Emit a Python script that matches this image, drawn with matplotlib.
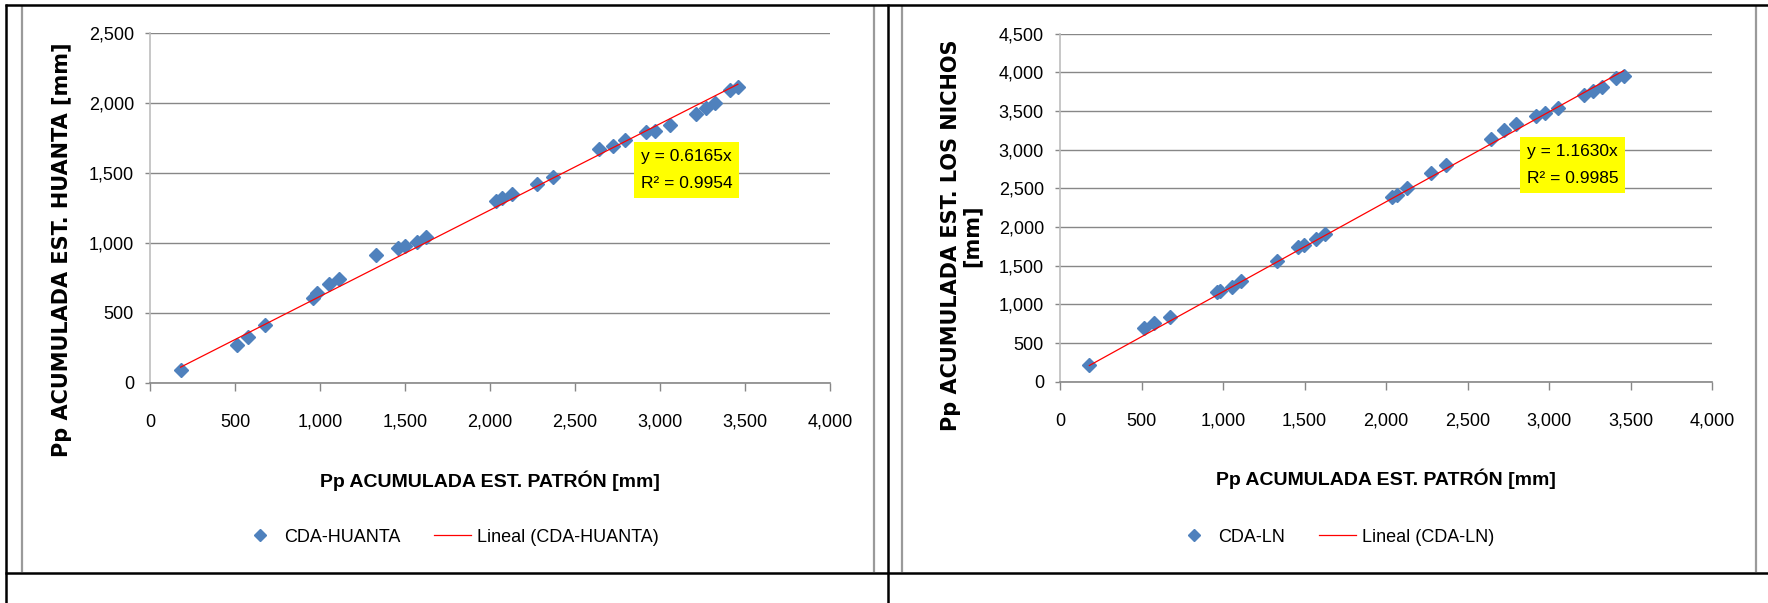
import numpy as np
from matplotlib import pyplot as plt
from matplotlib.lines import Line2D
from matplotlib.ticker import FuncFormatter, MultipleLocator

# accumulated precipitation at the reference station (x axis of both charts)
patron = [180, 513, 578, 676, 961, 984, 1053, 1110, 1332, 1460, 1498, 1568, 1625,
          2038, 2068, 2130, 2276, 2370, 2643, 2725, 2797, 2920, 2973, 3058,
          3214, 3270, 3323, 3410, 3458]
# accumulated precipitation at the two stations checked
huanta = [93, 266, 326, 414, 607, 643, 707, 738, 909, 964, 978, 1006, 1040,
          1297, 1321, 1345, 1421, 1469, 1671, 1688, 1736, 1790, 1797, 1838,
          1921, 1962, 1997, 2093, 2111]
nichos = [216, 691, 755, 841, 1156, 1177, 1229, 1303, 1561, 1738, 1768, 1840, 1905,
          2390, 2410, 2510, 2696, 2803, 3140, 3256, 3330, 3441, 3472, 3537,
          3709, 3765, 3816, 3925, 3950]

# trend line values as printed on the charts
slope_huanta, r2_huanta = 0.6165, 0.9954
slope_nichos, r2_nichos = 1.1630, 0.9985

xlabel = 'Pp ACUMULADA EST. PATRÓN [mm]'
ylabel_huanta = 'Pp ACUMULADA EST. HUANTA [mm]'
ylabel_nichos = 'Pp ACUMULADA EST. LOS NICHOS\n[mm]'

plt.rcParams['font.family'] = ['Liberation Sans', 'DejaVu Sans']

W, H = 1768, 603
blue = '#4F81BD'
grid_col = '#878787'

fig = plt.figure(figsize=(W / 100, H / 100), dpi=100)
fig.patch.set_facecolor('white')


def fline(x0, y0, x1, y1, color, lw):
    # line in pixel coords of the figure (y from the top)
    fig.add_artist(Line2D([x0 / W, x1 / W], [1 - y0 / H, 1 - y1 / H],
                          transform=fig.transFigure, color=color, lw=lw,
                          solid_capstyle='butt'))


def draw_chart(rect, y, ymax, slope, r2, name, ylabel, ylab_pos, box_pos, leg_x):
    ax = fig.add_axes([rect[0] / W, 1 - rect[1] / H, rect[2] / W, rect[3] / H])
    x = np.array(patron)
    ax.plot(x, y, 'D', color=blue, ms=7.5, mec=blue, zorder=3, label=name)
    xs = np.array([x.min(), x.max()])
    ax.plot(xs, slope * xs, color='red', lw=0.9, zorder=4, label=f'Lineal ({name})')

    ax.set_xlim(0, 4000)
    ax.set_ylim(0, ymax)
    ax.xaxis.set_major_locator(MultipleLocator(500))
    ax.yaxis.set_major_locator(MultipleLocator(500))
    fmt = FuncFormatter(lambda v, p: f'{v:,.0f}')
    ax.xaxis.set_major_formatter(fmt)
    ax.yaxis.set_major_formatter(fmt)
    ax.grid(axis='y', color=grid_col, lw=1.0)
    ax.set_axisbelow(True)
    for s in ['top', 'right']:
        ax.spines[s].set_visible(False)
    ax.spines['left'].set_color('#BEBEBE')
    ax.spines['bottom'].set_color(grid_col)
    ax.spines['left'].set_linewidth(1.2)
    ax.spines['bottom'].set_linewidth(1.2)
    ax.tick_params(axis='x', length=5.5, width=1, color=grid_col, pad=17, labelsize=13)
    ax.tick_params(axis='y', length=3.6, width=1, color=grid_col, pad=8, labelsize=13)

    ax.set_xlabel(xlabel, fontsize=14, fontweight='bold')
    ax.xaxis.set_label_coords(0.5, -0.25)
    ax.set_ylabel(ylabel, fontsize=15, fontweight='bold', family='DejaVu Sans',
                  linespacing=1.05)
    ax.yaxis.set_label_coords(*ylab_pos)

    ax.text(box_pos[0], box_pos[1], f'y = {slope:.4f}x\nR² = {r2:.4f}',
            transform=ax.transAxes, ha='center', va='center', fontsize=12.5,
            linespacing=2.0,
            bbox=dict(boxstyle='square,pad=0.4', fc='#FFFF00', ec='none'), zorder=5)

    h, l = ax.get_legend_handles_labels()
    fig.legend(h, l, loc='center', bbox_to_anchor=(leg_x, 0.109), ncol=2,
               frameon=False, fontsize=13, numpoints=1, handlelength=2.05,
               handletextpad=0.3, columnspacing=1.9, markerscale=0.8)
    return ax


draw_chart((150, 382.7, 680, 350), huanta, 2500, slope_huanta, r2_huanta,
           'CDA-HUANTA', ylabel_huanta, (-0.115, 0.38), (0.789, 0.607), 0.2545)
draw_chart((1060, 381.7, 652, 348), nichos, 4500, slope_nichos, r2_nichos,
           'CDA-LN', ylabel_nichos, (-0.12, 0.42), (0.786, 0.623), 0.755)

# chart area frames (gray) and table borders (black)
for xv in [22, 874, 902.5, 1756]:
    fline(xv, 6, xv, 572, '#9A9A9A', 1.6)
fline(5, 5, W, 5, 'black', 1.8)
fline(5, 573, W, 573, 'black', 1.8)
fline(6, 4, 6, H, 'black', 1.8)
fline(888, 4, 888, H, 'black', 1.8)

plt.savefig('out.png', dpi=100)
